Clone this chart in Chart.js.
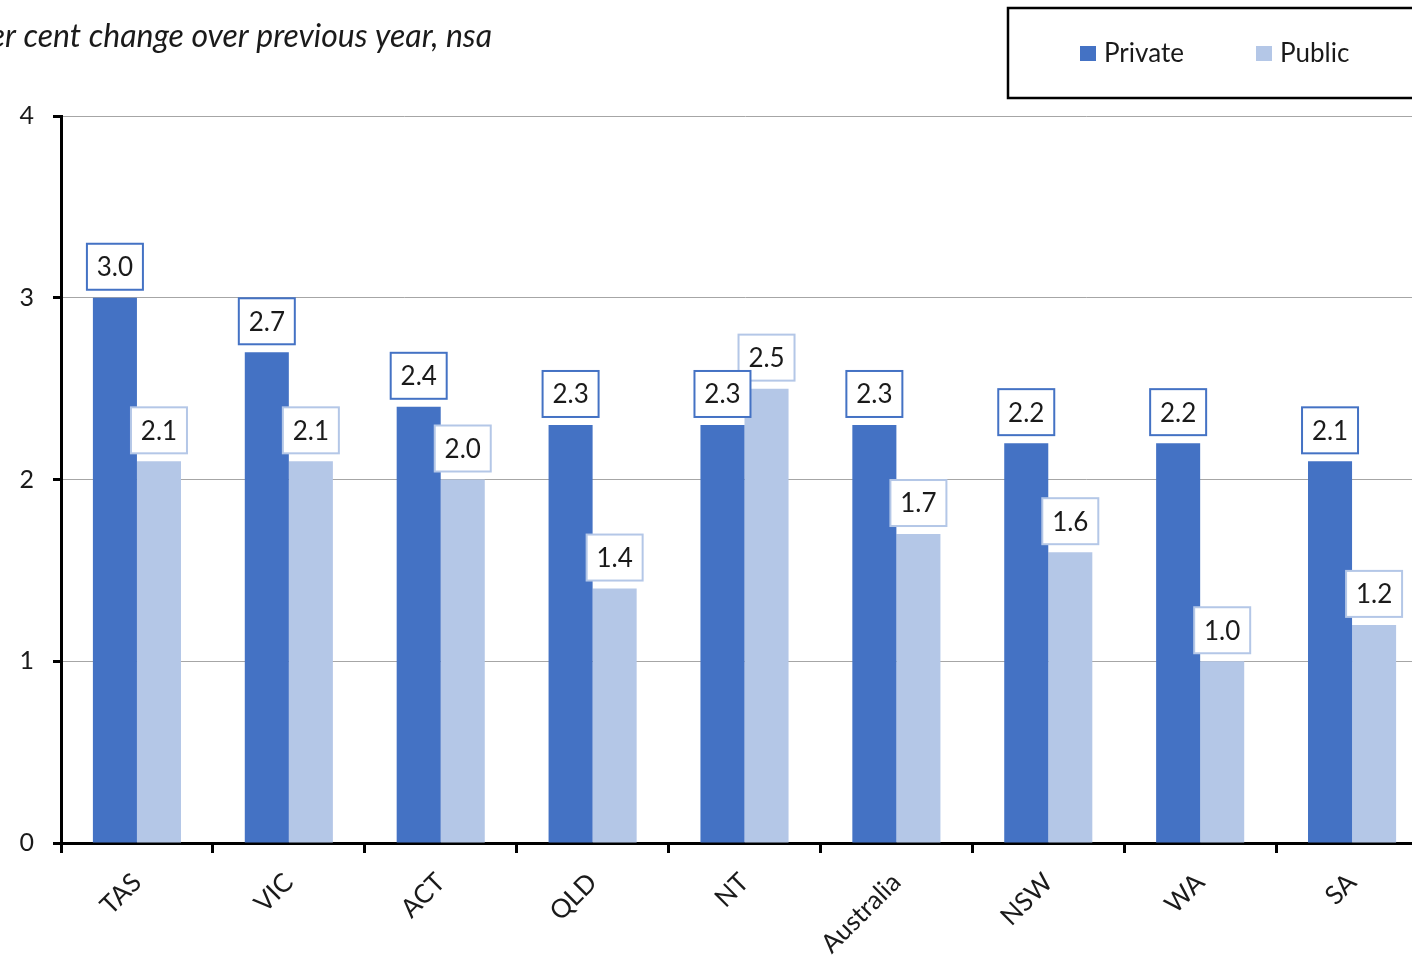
<!DOCTYPE html>
<html lang="en">
<head>
<meta charset="UTF-8">
<title>Wage growth by state</title>
<script src="https://cdn.jsdelivr.net/npm/chart.js"></script>
<style>
  html, body { margin: 0; padding: 0; background: #fff; overflow: hidden; }
  #wrap { position: relative; width: 1440px; height: 955px; }
</style>
</head>
<body>
<div id="wrap"><canvas id="chart"></canvas></div>
<script>
// categories and series
var states = ['TAS', 'VIC', 'ACT', 'QLD', 'NT', 'Australia', 'NSW', 'WA', 'SA'];
var privateVals = [3.0, 2.7, 2.4, 2.3, 2.3, 2.3, 2.2, 2.2, 2.1];
var publicVals = [2.1, 2.1, 2.0, 1.4, 2.5, 1.7, 1.6, 1.0, 1.2];
var yTicks = [0, 1, 2, 3, 4];

var BLUE = '#4472C4';
var LIGHT = '#B4C7E7';
var FONT = 'Lato, "Open Sans", sans-serif';

// boxed value labels above each bar (public drawn first so private sits on top)
var valueBoxes = {
  id: 'valueBoxes',
  afterDatasetsDraw: function (chart) {
    var ctx = chart.ctx;
    ctx.save();
    ctx.font = '26px ' + FONT;
    ctx.textAlign = 'center';
    ctx.textBaseline = 'middle';
    [1, 0].forEach(function (di) {
      var ds = chart.data.datasets[di];
      chart.getDatasetMeta(di).data.forEach(function (bar, i) {
        var w = 56, h = 46;
        var x = bar.x - w / 2, y = bar.y - 8 - h;
        ctx.fillStyle = '#fff';
        ctx.fillRect(x, y, w, h);
        ctx.lineWidth = 2;
        ctx.strokeStyle = ds.backgroundColor;
        ctx.strokeRect(x, y, w, h);
        ctx.fillStyle = '#1a1a1a';
        ctx.fillText(ds.data[i].toFixed(1), bar.x, y + h / 2 + 1);
      });
    });
    ctx.restore();
  }
};

// subtitle and boxed legend at the top
var header = {
  id: 'header',
  afterDraw: function (chart) {
    var ctx = chart.ctx;
    ctx.save();
    ctx.fillStyle = '#1a1a1a';
    ctx.font = 'italic 32px ' + FONT;
    ctx.textAlign = 'right';
    ctx.textBaseline = 'alphabetic';
    ctx.fillText('Per cent change over previous year, nsa', 492, 47);

    ctx.lineWidth = 2.5;
    ctx.strokeStyle = '#000';
    ctx.strokeRect(1008, 8, 460, 90);

    ctx.font = '26px ' + FONT;
    ctx.textBaseline = 'middle';
    ctx.textAlign = 'left';
    var xs = [1080, 1256];
    chart.data.datasets.forEach(function (ds, i) {
      ctx.fillStyle = ds.backgroundColor;
      ctx.fillRect(xs[i], 46, 16, 15);
      ctx.fillStyle = '#1a1a1a';
      ctx.fillText(ds.label, xs[i] + 24, 54);
    });
    ctx.restore();
  }
};

new Chart(document.getElementById('chart'), {
  type: 'bar',
  data: {
    labels: states,
    datasets: [
      { label: 'Private', data: privateVals, backgroundColor: BLUE },
      { label: 'Public', data: publicVals, backgroundColor: LIGHT }
    ]
  },
  options: {
    responsive: true,
    maintainAspectRatio: false,
    animation: false,
    datasets: { bar: { barPercentage: 1.0, categoryPercentage: 0.58 } },
    layout: { padding: { top: 116, right: 12, left: 0, bottom: 0 } },
    plugins: { legend: { display: false }, tooltip: { enabled: false } },
    scales: {
      x: {
        grid: {
          drawOnChartArea: false,
          drawTicks: true,
          tickLength: 10,
          tickColor: '#000',
          tickWidth: 3,
          offset: true
        },
        border: { color: '#000', width: 3 },
        ticks: {
          autoSkip: false,
          minRotation: 45,
          maxRotation: 45,
          padding: 14,
          color: '#1a1a1a',
          font: { family: FONT, size: 26 }
        },
        afterFit: function (s) { s.height = 955 - 843; }
      },
      y: {
        min: yTicks[0],
        max: yTicks[yTicks.length - 1],
        afterBuildTicks: function (s) { s.ticks = yTicks.map(function (v) { return { value: v }; }); },
        grid: {
          color: '#A6A6A6',
          lineWidth: 1,
          tickLength: 8,
          tickColor: '#000',
          tickWidth: 3
        },
        border: { color: '#000', width: 3 },
        ticks: {
          padding: 19,
          color: '#1a1a1a',
          font: { family: FONT, size: 25 }
        },
        afterFit: function (s) { s.width = 61; }
      }
    }
  },
  plugins: [valueBoxes, header]
});
</script>
</body>
</html>
